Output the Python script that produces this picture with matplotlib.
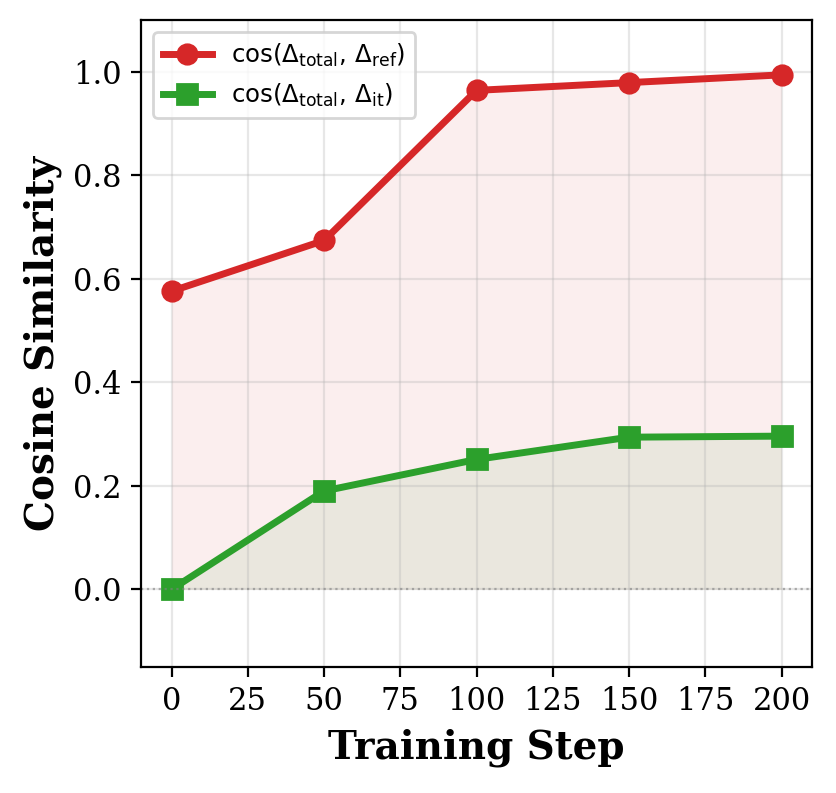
import numpy as np
import matplotlib
matplotlib.use("Agg")
import matplotlib.pyplot as plt

plt.rcParams['font.family'] = 'DejaVu Serif'
plt.rcParams['mathtext.fontset'] = 'dejavusans'

steps = [0, 50, 100, 150, 200]
cos_ref = [0.576, 0.674, 0.964, 0.979, 0.994]
cos_it = [0.0, 0.190, 0.251, 0.294, 0.296]

red = '#d62728'
green = '#2ca02c'

fig = plt.figure(figsize=(4.18, 3.965), dpi=200)
ax = fig.add_axes([0.1687, 0.1589, 0.8026, 0.8159])

ax.fill_between(steps, 0, cos_ref, color=red, alpha=0.08, linewidth=0)
ax.fill_between(steps, 0, cos_it, color=green, alpha=0.08, linewidth=0)
ax.plot(steps, cos_ref, color=red, marker='o', markersize=7, linewidth=2.5,
        label=r'$\cos(\Delta_{\rm total},\, \Delta_{\rm ref})$')
ax.plot(steps, cos_it, color=green, marker='s', markersize=7, linewidth=2.5,
        label=r'$\cos(\Delta_{\rm total},\, \Delta_{\rm it})$')
ax.axhline(0, color='gray', linestyle=':', linewidth=0.8, alpha=0.6)

ax.set_xlim(-10, 210)
ax.set_ylim(-0.15, 1.1)
ax.set_xticks(np.arange(0, 201, 25))
ax.set_yticks([0.0, 0.2, 0.4, 0.6, 0.8, 1.0])
ax.tick_params(labelsize=11)
ax.set_xlabel('Training Step', fontsize=14, fontweight='bold')
ax.set_ylabel('Cosine Similarity', fontsize=14, fontweight='bold')
ax.grid(True, alpha=0.3)
ax.legend(loc='upper left', fontsize=8.8)

fig.savefig('out.png', dpi=200)
